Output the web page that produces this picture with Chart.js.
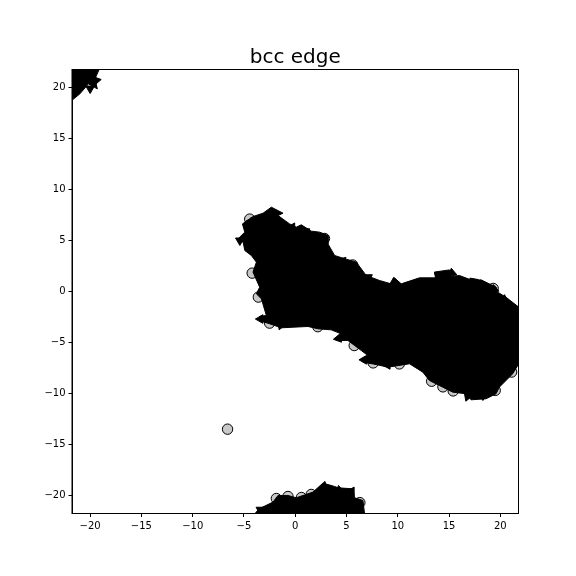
<!DOCTYPE html>
<html><head><meta charset="utf-8">
<style>html,body{margin:0;padding:0;background:#fff}canvas{display:block}</style>
<script src="https://cdn.jsdelivr.net/npm/chart.js@4"></script>
</head><body><canvas id="c" width="576" height="576"></canvas>
<script>
const titleText = "bcc edge";
const tickValues = [-20,-15,-10,-5,0,5,10,15,20];
const mainBlob = [[-5.67,5.07],[-4.92,5.82],[-5.15,6.63],[-4.12,7.35],[-3.14,7.68],[-2.33,8.27],[-1.19,7.68],[-1.68,7.45],[-0.55,6.63],[0.10,6.31],[0.59,6.54],[1.56,5.92],[2.38,5.82],[3.19,5.49],[3.19,4.67],[3.84,3.53],[4.65,3.27],[5.95,2.88],[6.92,1.57],[8.22,1.08],[9.35,0.75],[9.68,1.34],[10.33,0.75],[12.11,1.34],[13.73,1.34],[13.57,1.90],[15.03,2.12],[15.19,1.47],[16.0,1.57],[17.3,1.08],[18.12,1.14],[19.58,0.42],[19.74,-0.07],[20.55,-0.56],[21.8,-1.54],[21.8,-7.09],[21.2,-8.07],[19.9,-9.38],[19.58,-10.03],[18.6,-10.52],[17.14,-10.62],[16.66,-10.03],[15.36,-9.87],[14.06,-9.22],[13.08,-8.73],[12.44,-7.91],[11.14,-7.09],[9.03,-7.42],[7.89,-7.16],[6.6,-6.93],[6.6,-6.5],[7.08,-6.27],[6.43,-5.78],[5.78,-5.29],[5.13,-4.80],[4.0,-4.80],[4.48,-4.15],[3.51,-3.76],[2.21,-3.66],[1.24,-3.43],[-0.22,-3.5],[-1.36,-3.56],[-2.49,-3.17],[-3.53,-2.84],[-3.47,-2.45],[-2.82,-2.35],[-3.3,-0.72],[-3.79,-0.23],[-3.47,0.42],[-4.12,1.90],[-3.79,2.88],[-4.28,3.53],[-4.92,4.02],[-5.08,4.84],[-5.67,5.07]];
const cornerBlob = [[-21.8,21.8],[-19.11,21.8],[-19.53,20.85],[-19.3,19.87],[-20.17,20.36],[-21,19.38],[-21.8,18.73],[-21.8,21.8]];
const bottomBlob = [[-3.95,-21.8],[-3.53,-21.31],[-2.17,-20.65],[-1.68,-20],[-0.71,-20],[0.1,-20.23],[1.73,-19.67],[2.7,-18.79],[3.84,-19.12],[4.18,-19.25],[5.62,-19.35],[5.79,-20.23],[6.6,-20.49],[6.76,-21.8],[-3.95,-21.8]];
const edgeNodes = [[2.85,5.2],[5.6,2.6],[-4.2,1.8],[-3.6,-0.55],[-2.5,-3.1],[2.2,-3.45],[5.75,-5.3],[7.6,-7.0],[10.15,-7.1],[13.3,-8.8],[14.4,-9.35],[15.4,-9.75],[19.5,-9.7],[21.1,-7.9],[19.3,0.3],[-4.44,7.1],[-4.5,6.5],[-1.84,-20.3],[-0.71,-20.1],[0.6,-20.2],[1.56,-19.9],[6.3,-20.7]];
const loneNode = [[-6.6,-13.5]];
const arrowHeads = [[-2.4,7.7],[-3.9,7.0],[-0.3,6.3],[1.0,5.9],[4.6,3.0],[7.1,1.4],[9.6,0.9],[13.9,1.5],[15.3,1.8],[17.4,1.0],[19.4,0.2],[20.4,-0.8],[18.3,-10.2],[16.8,-10.3],[9.0,-7.2],[6.7,-6.7],[4.2,-4.6],[-3.4,-2.7],[-1.4,-3.3],[-5.4,5.0],[2.8,-19.1],[4.3,-19.5],[5.5,-19.6],[-3.4,-21.4],[-20,19.9],[-19.4,20.7]];
const arrowTurns = [0,300,30,60,45,60,0,80,350,70,110,120,180,200,270,270,260,270,200,300,10,350,30,300,180,80];
const toXY = a => a.map(p => ({x:p[0], y:p[1]}));
const blob = pts => ({type:'line', data:toXY(pts), backgroundColor:'#000', borderColor:'#000', borderWidth:1, fill:'shape', pointRadius:0, tension:0, order:1});
const nodes = (pts, order) => ({type:'scatter', data:toXY(pts), backgroundColor:'#c8c8c8', borderColor:'#000', borderWidth:1, pointRadius:5.2, order});
const arrows = {type:'scatter', data:toXY(arrowHeads), pointStyle:'triangle', rotation:arrowTurns, backgroundColor:'#000', borderColor:'#000', borderWidth:1, pointRadius:5, order:0};
const fmt = v => String(v).replace('-', '\u2212');
const axis = (extent) => ({
  type:'linear', min:-21.72, max:21.72,
  grid:{drawOnChartArea:false, drawTicks:true, tickLength:4, tickWidth:1, color:'#000'},
  border:{color:'#000', width:1},
  afterBuildTicks(s){ s.ticks = tickValues.map(v => ({value:v})); },
  afterFit(s){ if (s.isHorizontal()) s.height = extent; else s.width = extent; },
  ticks:{autoSkip:false, maxRotation:0, color:'#000', padding:3, font:{family:'DejaVu Sans', size:10}, callback:fmt}
});
const frame = {id:'frame', afterDraw(c){ const a=c.chartArea, g=c.ctx; g.save(); g.strokeStyle='#000'; g.lineWidth=1; g.strokeRect(a.left-0.5,a.top-0.5,a.right-a.left+1,a.bottom-a.top+1); g.restore(); }};
new Chart(document.getElementById('c'), {
  type:'line',
  data:{datasets:[nodes(edgeNodes,3), blob(mainBlob), blob(cornerBlob), blob(bottomBlob), nodes(loneNode,0), arrows]},
  plugins:[frame],
  options:{
    responsive:false, animation:false, events:[],
    layout:{padding:{left:0,right:58,top:0,bottom:0}},
    plugins:{legend:{display:false}, tooltip:{enabled:false},
      title:{display:true, text:titleText, fullSize:false, color:'#000', font:{family:'DejaVu Sans', size:20, weight:'normal'}, padding:{top:46,bottom:0}}},
    scales:{x:axis(63), y:axis(72.5)}
  }
});
</script></body></html>
